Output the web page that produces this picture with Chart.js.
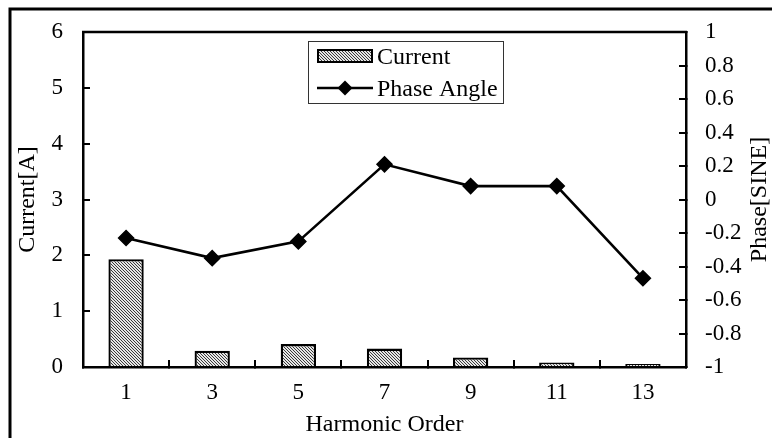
<!DOCTYPE html>
<html><head><meta charset="utf-8">
<script src="https://cdn.jsdelivr.net/npm/chart.js@4"></script>
<style>html,body{margin:0;padding:0;background:#fff;}#wrap{width:772px;height:438px;}</style>
</head><body><div id="wrap"><canvas id="c" width="772" height="438"></canvas></div>
<script>
const categories = ['1', '3', '5', '7', '9', '11', '13'];
const currentValues = [1.93, 0.29, 0.41, 0.33, 0.17, 0.08, 0.02];
const phaseValues = [-0.23, -0.35, -0.25, 0.21, 0.08, 0.08, -0.47];
const leftTicks = [0, 1, 2, 3, 4, 5, 6];
const rightTicks = [-1, -0.8, -0.6, -0.4, -0.2, 0, 0.2, 0.4, 0.6, 0.8, 1];
const seriesNames = ['Current', 'Phase Angle'];
const xTitle = 'Harmonic Order';
const leftTitle = 'Current[A]';
const rightTitle = 'Phase[SINE]';

const F = "'Liberation Serif', 'Times New Roman', serif";

function hatch() {
  const c = document.createElement('canvas');
  c.width = 3; c.height = 3;
  const g = c.getContext('2d');
  g.fillStyle = '#e6e6e6'; g.fillRect(0, 0, 3, 3);
  g.fillStyle = '#3a3a3a';
  for (let i = 0; i < 3; i++) g.fillRect(i, i, 1, 1);
  return g.createPattern(c, 'repeat');
}
const pattern = hatch();

const framePlugin = {
  id: 'frame',
  afterDraw(chart) {
    const ctx = chart.ctx, a = chart.chartArea;
    ctx.save();
    ctx.strokeStyle = '#000';
    ctx.lineWidth = 3;
    ctx.beginPath(); ctx.moveTo(10, 438); ctx.lineTo(10, 9); ctx.lineTo(772, 9); ctx.stroke();
    ctx.lineWidth = 2.5;
    ctx.beginPath(); ctx.moveTo(a.left - 1, a.top); ctx.lineTo(a.right + 1, a.top); ctx.stroke();
    const s = chart.scales.y1;
    ctx.translate(760, (s.top + s.bottom) / 2);
    ctx.rotate(-Math.PI / 2);
    ctx.fillStyle = '#000';
    ctx.font = '24px ' + F;
    ctx.textAlign = 'center';
    ctx.textBaseline = 'middle';
    ctx.fillText(rightTitle, 0, 0);
    ctx.restore();
  }
};

const legendPlugin = {
  id: 'boxLegend',
  afterDraw(chart) {
    const ctx = chart.ctx;
    const ds = chart.data.datasets;
    const bar = ds.find(d => d.type === 'bar');
    const line = ds.find(d => d.type === 'line');
    ctx.save();
    ctx.fillStyle = '#fff';
    ctx.fillRect(308, 41, 195, 62);
    ctx.strokeStyle = '#333';
    ctx.lineWidth = 1;
    ctx.strokeRect(308.5, 41.5, 195, 62);
    ctx.fillStyle = pattern;
    ctx.fillRect(317, 49, 56, 14);
    ctx.strokeStyle = '#000';
    ctx.lineWidth = 2;
    ctx.strokeRect(318, 50, 54, 12);
    ctx.lineWidth = 2.5;
    ctx.beginPath(); ctx.moveTo(317, 88); ctx.lineTo(373, 88); ctx.stroke();
    ctx.fillStyle = '#000';
    ctx.beginPath();
    ctx.moveTo(345 - 7.5, 88); ctx.lineTo(345, 88 - 7.5); ctx.lineTo(345 + 7.5, 88); ctx.lineTo(345, 88 + 7.5); ctx.closePath();
    ctx.fill();
    ctx.font = '24px ' + F;
    ctx.textBaseline = 'middle';
    ctx.textAlign = 'left';
    ctx.fillText(bar.label, 377, 58);
    ctx.fillText(line.label, 377, 90);
    ctx.restore();
  }
};

const gridOpts = { drawOnChartArea: false, drawTicks: true, tickLength: -7, color: '#000', lineWidth: 2 };
const borderOpts = { color: '#000', width: 2.5 };
const tickFont = { family: F, size: 23, lineHeight: 1 };
const titleFont = { family: F, size: 24, lineHeight: 1 };

new Chart(document.getElementById('c'), {
  type: 'bar',
  data: {
    labels: categories,
    datasets: [
      {
        type: 'line', label: seriesNames[1], data: phaseValues, yAxisID: 'y1',
        borderColor: '#000', borderWidth: 2.6, tension: 0, fill: false,
        pointStyle: 'rectRot', pointRadius: 7.5, pointBackgroundColor: '#000',
        pointBorderColor: '#000', pointBorderWidth: 1.5, order: 0
      },
      {
        type: 'bar', label: seriesNames[0], data: currentValues, yAxisID: 'y',
        backgroundColor: pattern, borderColor: '#000', borderWidth: 2.3,
        barPercentage: 0.41, categoryPercentage: 1, minBarLength: 3, order: 1
      }
    ]
  },
  options: {
    responsive: false, animation: false, devicePixelRatio: 1,
    layout: { padding: { top: 32, left: 0, right: 0, bottom: 0 } },
    plugins: { legend: { display: false }, tooltip: { enabled: false } },
    scales: {
      x: {
        position: 'bottom', offset: true,
        grid: Object.assign({ offset: true }, gridOpts),
        border: borderOpts,
        ticks: { color: '#000', font: tickFont, padding: 21, maxRotation: 0, autoSkip: false },
        title: { display: true, text: xTitle, color: '#000', font: titleFont, padding: { top: 0, bottom: 1 } },
        afterFit: s => { s.height = 71; }
      },
      y: {
        position: 'left', min: 0, max: 6,
        afterBuildTicks: s => { s.ticks = leftTicks.map(v => ({ value: v })); },
        grid: gridOpts, border: borderOpts,
        ticks: { color: '#000', font: tickFont, padding: 27 },
        title: { display: true, text: leftTitle, color: '#000', font: titleFont, padding: { top: 15.5, bottom: 0 } },
        afterFit: s => { s.width = 83; s.paddingTop = 12; s.paddingBottom = 12; }
      },
      y1: {
        position: 'right', min: -1, max: 1,
        afterBuildTicks: s => { s.ticks = rightTicks.map(v => ({ value: v })); },
        grid: gridOpts, border: borderOpts,
        ticks: { color: '#000', font: tickFont, padding: 26, callback: v => String(Math.round(v * 10) / 10) },
        title: { display: false },
        afterFit: s => { s.width = 86; s.paddingTop = 12; s.paddingBottom = 12; }
      }
    }
  },
  plugins: [framePlugin, legendPlugin]
});
</script>
</body></html>
